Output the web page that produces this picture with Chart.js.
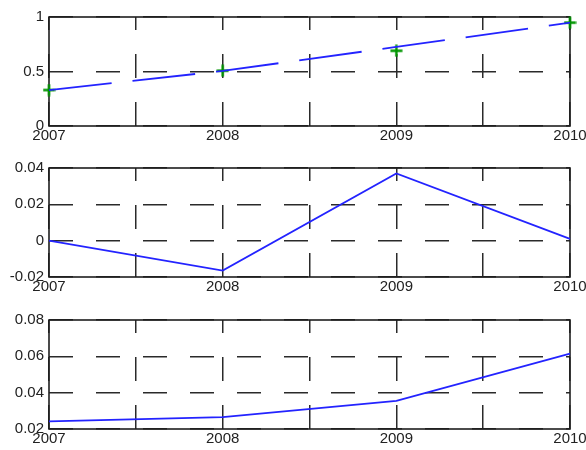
<!DOCTYPE html>
<html>
<head>
<meta charset="utf-8">
<script src="https://cdn.jsdelivr.net/npm/chart.js@4/dist/chart.umd.min.js"></script>
<style>
  html, body { margin: 0; padding: 0; background: #fff; }
  body { width: 586px; height: 450px; overflow: hidden; position: relative; }
  canvas { position: absolute; left: 0; }
</style>
</head>
<body>
<canvas id="c1" width="586" height="150" style="top:0px"></canvas>
<canvas id="c2" width="586" height="150" style="top:151px"></canvas>
<canvas id="c3" width="586" height="150" style="top:303px"></canvas>
<script>
// ---- data ----
const years = [2007, 2008, 2009, 2010];
const xTickValues = [2007, 2007.5, 2008, 2008.5, 2009, 2009.5, 2010];
const xTickLabels = ['2007', '', '2008', '', '2009', '', '2010'];

const topLine    = [0.33, 0.505, 0.725, 0.948];
const topMarkers = [0.33, 0.507, 0.69, 0.948];
const midValues  = [0, -0.0165, 0.037, 0.001];
const botValues  = [0.0242, 0.0265, 0.0355, 0.0615];

const topYTicks  = [0, 0.5, 1];
const topYLabels = ['0', '0.5', '1'];
const midYTicks  = [-0.02, 0, 0.02, 0.04];
const midYLabels = ['-0.02', '0', '0.02', '0.04'];
const botYTicks  = [0.02, 0.04, 0.06, 0.08];
const botYLabels = ['0.02', '0.04', '0.06', '0.08'];

// ---- styling ----
const FONT = { family: "'Liberation Sans', Arial, Helvetica, sans-serif", size: 15 };
const TEXT = '#222';
const GRID = '#2a2a2a';
const BLUE = 'rgb(35,35,255)';
const GREEN = 'rgb(0,150,0)';

// '+' marker glyph
const plus = document.createElement('canvas');
plus.width = 13; plus.height = 13;
(function () {
  const c = plus.getContext('2d');
  c.strokeStyle = GREEN;
  c.lineWidth = 2.4;
  c.beginPath();
  c.moveTo(0.5, 6.5); c.lineTo(12.5, 6.5);
  c.moveTo(6.5, 0.5); c.lineTo(6.5, 12.5);
  c.stroke();
})();

const framePlugin = {
  id: 'frame',
  beforeDatasetsDraw(chart) {
    const { ctx, chartArea: a } = chart;
    ctx.save();
    ctx.strokeStyle = '#1e1e1e';
    ctx.lineWidth = 1.6;
    ctx.setLineDash([]);
    ctx.strokeRect(a.left, a.top, a.right - a.left, a.bottom - a.top);
    ctx.restore();
  }
};

function pts(vals) { return years.map((y, i) => ({ x: y, y: vals[i] })); }

function makeChart(id, datasets, yTicks, yLabels) {
  const yMin = yTicks[0], yMax = yTicks[yTicks.length - 1];
  return new Chart(document.getElementById(id), {
    type: 'line',
    data: { datasets },
    options: {
      responsive: false,
      animation: false,
      events: [],
      layout: { padding: { top: 17, right: 16, left: 0, bottom: 0 } },
      plugins: { legend: { display: false }, tooltip: { enabled: false } },
      scales: {
        x: {
          type: 'linear',
          min: years[0],
          max: years[years.length - 1],
          afterBuildTicks: s => { s.ticks = xTickValues.map(v => ({ value: v })); },
          afterFit: s => { s.height = 24; s.paddingLeft = 0; s.paddingRight = 0; },
          ticks: {
            autoSkip: false, maxRotation: 0, minRotation: 0, padding: 1,
            color: TEXT, font: FONT,
            callback: (v, i) => xTickLabels[i]
          },
          grid: { color: GRID, lineWidth: 1.5, drawTicks: false },
          border: { display: false, dash: [24, 24], dashOffset: 11 }
        },
        y: {
          type: 'linear',
          min: yMin,
          max: yMax,
          afterBuildTicks: s => { s.ticks = yTicks.map(v => ({ value: v })); },
          afterFit: s => { s.width = 49; s.paddingTop = 0; s.paddingBottom = 0; },
          ticks: {
            autoSkip: false, padding: 5,
            color: TEXT, font: FONT,
            callback: (v, i) => yLabels[i]
          },
          grid: { color: GRID, lineWidth: 1.5, drawTicks: false },
          border: { display: false, dash: [24, 23] }
        }
      }
    },
    plugins: [framePlugin]
  });
}

makeChart('c1', [
  {
    data: pts(topLine), borderColor: BLUE, borderWidth: 1.8,
    borderDash: [63, 21], pointRadius: 0, tension: 0, clip: false
  },
  {
    data: pts(topMarkers), showLine: false, pointStyle: plus,
    pointRadius: 6, clip: false
  }
], topYTicks, topYLabels);

makeChart('c2', [
  { data: pts(midValues), borderColor: BLUE, borderWidth: 1.8, pointRadius: 0, tension: 0, clip: false }
], midYTicks, midYLabels);

makeChart('c3', [
  { data: pts(botValues), borderColor: BLUE, borderWidth: 1.8, pointRadius: 0, tension: 0, clip: false }
], botYTicks, botYLabels);
</script>
</body>
</html>
